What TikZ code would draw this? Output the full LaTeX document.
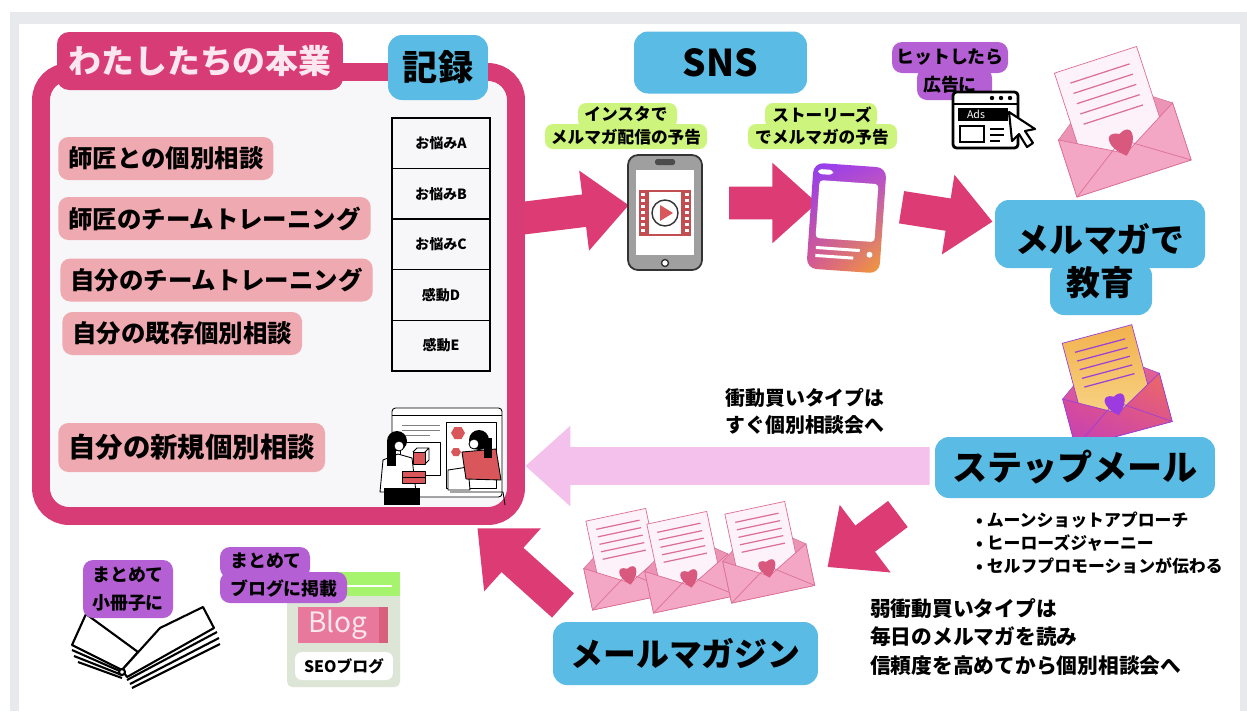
\documentclass[tikz,border=0pt]{standalone}
\usepackage{fontspec}
\setmainfont{Noto Sans CJK JP}[BoldFont={Noto Sans CJK JP Black}]
\usetikzlibrary{shapes.arrows,shadings,positioning}

\newcommand\fsz[2]{\fontsize{#1}{#2}\selectfont}

\definecolor{BorderGray}{HTML}{E7E9EC}
\definecolor{Panel}{HTML}{F7F7F9}
\definecolor{FramePink}{HTML}{D83C76}
\definecolor{ArrowPink}{HTML}{DC3B73}
\definecolor{SoftPink}{HTML}{F3C1EC}
\definecolor{ItemPink}{HTML}{EFA9B0}
\definecolor{TitleInk}{HTML}{FCE6EF}
\definecolor{SkyBlue}{HTML}{5ABCE5}
\definecolor{Lime}{HTML}{CDF47C}
\definecolor{Violet}{HTML}{B460D4}
\definecolor{SceneRed}{HTML}{D9575B}
\definecolor{EnvFront}{HTML}{F3A7C4}
\definecolor{EnvBack}{HTML}{EC94B6}
\definecolor{Paper}{HTML}{FDF1FA}
\definecolor{EnvLine}{HTML}{DC6F94}
\definecolor{Heart}{HTML}{D9587E}
\definecolor{StoryA}{HTML}{8F3CF3}
\definecolor{StoryB}{HTML}{B246DC}
\definecolor{StoryC}{HTML}{D95A8C}
\definecolor{StoryD}{HTML}{F5A030}
\definecolor{GlowBackTop}{HTML}{E86A86}
\definecolor{GlowBackBot}{HTML}{C43FBE}
\definecolor{GlowUL}{HTML}{E2508F}
\definecolor{GlowUR}{HTML}{EE6B62}
\definecolor{GlowLL}{HTML}{C23FB8}
\definecolor{GlowLR}{HTML}{D54C9A}
\definecolor{GlowPaperTop}{HTML}{F2B24E}
\definecolor{GlowPaperBot}{HTML}{F8D487}
\definecolor{GlowInk}{HTML}{9B3FD6}
\definecolor{GlowHeart}{HTML}{9C3CE0}
\definecolor{BlogPink}{HTML}{E8789C}
\definecolor{BlogDeep}{HTML}{D8607F}
\definecolor{BlogBand}{HTML}{A6F46E}
\definecolor{BlogCard}{HTML}{DDE6D6}

\tikzset{
  bigarrow/.style={single arrow, fill=ArrowPink, inner xsep=0pt, inner ysep=0.32cm,
    single arrow head extend=0.48cm, single arrow tip angle=84},
  tab/.style={fill=FramePink, text=TitleInk, rounded corners=0.24cm,
    font=\bfseries\fsz{18.7}{22}},
  bluebox/.style={fill=SkyBlue, rounded corners=0.28cm, font=\bfseries\fsz{20}{24}},
  worry/.style={fill=ItemPink, rounded corners=0.2cm, anchor=west, inner xsep=0.2cm,
    minimum height=0.86cm, font=\bfseries\fsz{13.9}{16}},
  cell/.style={draw=black, line width=0.7pt, minimum width=1.96cm, minimum height=1.012cm,
    font=\bfseries\fsz{8}{9}},
  note/.style={align=center, font=\bfseries\fsz{9.5}{13}},
  % envelope parts, overridable per envelope
  envback/.style={fill=EnvBack},
  envfill/.style={fill=EnvFront},
  envpaper/.style={fill=Paper},
  envink/.style={draw=EnvLine},
  envheart/.style={fill=Heart},
  pics/loveletter/.style={code={
    \path[envback, envink, line width=0.3pt] (-50,-4) -- (0,-40) -- (50,-4) -- (50,46) -- (-50,46) -- cycle;
    \path[envpaper, envink, line width=0.4pt] (-36,-58) rectangle (36,22);
    \foreach \l in {-46,-37,-28,-19,-10}
      \path[envink, line width=0.7pt] (-26,\l) -- (26,\l);
    \path[envfill, envink, line width=0.4pt] (-50,-4) -- (0,24) -- (50,-4) -- (50,46) -- (-50,46) -- cycle;
    \path[envink, line width=0.4pt] (-50,46) -- (-6,16) (50,46) -- (6,16);
    \path[envheart] (0,26) .. controls (-15,14) and (-12,0) .. (0,7) .. controls (12,0) and (15,14) .. (0,26);
  }},
}

\begin{document}
\begin{tikzpicture}[x=0.02cm, y=-0.02cm]
\useasboundingbox (0,0) rectangle (1247,711);
\fill[BorderGray] (10,12) rectangle (1247,711);
\fill[white] (19,24) rectangle (1240,711);

% --- flow arrows ---
\node[bigarrow, minimum height=2.2cm, rotate=7] (toinsta) at (565,213) {};
\node[bigarrow, minimum height=1.76cm] (tostory) at (764,203) {};
\node[bigarrow, minimum height=1.84cm, rotate=-9] (tomailedu) at (938,213) {};
\node[bigarrow, fill=SoftPink, minimum height=8.08cm, rotate=180, inner ysep=0.37cm,
  single arrow head extend=0.43cm] (impulse) at (738,466) {};
\node[bigarrow, minimum height=1.76cm, rotate=217, single arrow head extend=0.52cm] (tomagazine) at (870,535) {};
\node[bigarrow, minimum height=2.3cm, rotate=138, single arrow head extend=0.52cm] (toservice) at (527,573) {};

% --- main frame ---
\draw[FramePink, fill=Panel, line width=10.2pt, rounded corners=0.56cm] (41,72) rectangle (516,516);
\node[tab, minimum width=5.72cm, minimum height=1.16cm] (title) at (200,61) {わたしたちの本業};
\node[bluebox, minimum width=2cm, minimum height=1.3cm] (record) at (438,67.5) {記録};

\node[worry] (w1) at (58,158.5) {師匠との個別相談};
\node[worry] (w2) at (58,218.5) {師匠のチームトレーニング};
\node[worry] (w3) at (60,280) {自分のチームトレーニング};
\node[worry] (w4) at (62,333.5) {自分の既存個別相談};
\node[worry, minimum height=0.98cm, font=\bfseries\fsz{15.6}{18}] (w5) at (58,447.5) {自分の新規個別相談};

\foreach \t [count=\i] in {お悩みA,お悩みB,お悩みC,感動D,感動E}
  \node[cell] (cell\i) at (441,{92.6+50.6*\i}) {\t};

% consultation scene
\begin{scope}[line width=0.5pt, line join=round]
  \filldraw[fill=white, rounded corners=2pt] (392,408) rectangle (502,497);
  \draw (392,415) -- (502,415);
  \draw[gray] (402,425) -- (440,425) (402,430) -- (440,430) (402,435) -- (430,435);
  \draw (400,442) rectangle (440,475);
  \draw (446,422) rectangle (496,488);
  \fill[SceneRed] (465,433) -- (461.5,427) -- (454.5,427) -- (451,433) -- (454.5,439) -- (461.5,439) -- cycle;
  \fill[SceneRed] (461,452) -- (458.5,448) -- (453.5,448) -- (451,452) -- (453.5,456) -- (458.5,456) -- cycle;
  \filldraw[fill=SceneRed] (413,452) rectangle (425,464);
  \draw (413,452) -- (417,448) -- (429,448) -- (429,460) -- (425,464) (425,452) -- (429,448);
  % left woman
  \filldraw[fill=white] (380,492) -- (383,460) -- (398,454) -- (412,458) -- (416,492) -- cycle;
  \fill (397,441) circle (10);
  \fill (387,441) rectangle (396,466);
  \filldraw[fill=white] (399,446) circle (5);
  \fill (384,488) rectangle (420,505);
  \filldraw[fill=SceneRed] (402,471) rectangle (425,477) (402,477) rectangle (425,483);
  % right woman
  \filldraw[fill=white] (448,490) -- (448,470) -- (468,467) -- (470,490) -- cycle;
  \filldraw[fill=SceneRed] (462,452) -- (496,449) -- (501,480) -- (466,479) -- cycle;
  \fill (479,440) circle (10);
  \fill (484,438) rectangle (492,458);
  \filldraw[fill=white] (474,444) circle (5);
  \draw (450,492) -- (503,492) -- (505,505);
\end{scope}

% --- SNS column ---
\node[bluebox, minimum width=3.46cm, minimum height=1.24cm, font=\bfseries\fsz{21}{24}] (sns) at (720.5,62.5) {SNS};

\fill[Lime, rounded corners=0.16cm] (578,103) rectangle (677,128);
\fill[Lime, rounded corners=0.16cm] (545,124) rectangle (707,149);
\node[note] (instanote) at (626,126) {インスタで\\メルマガ配信の予告};

\fill[Lime, rounded corners=0.16cm] (765,103) rectangle (877,128);
\fill[Lime, rounded corners=0.16cm] (748,124) rectangle (897,149);
\node[note] (storynote) at (822,126) {ストーリーズ\\でメルマガの予告};

% phone with video
\filldraw[fill=gray!75, draw=black!80, line width=1pt, rounded corners=0.2cm] (628,155) rectangle (702,270);
\fill[white] (636,170) rectangle (694,255);
\fill[black!70, rounded corners=1pt] (655,159) rectangle (675,165);
\filldraw[fill=white, draw=black!80, line width=0.8pt] (665,263) circle (3.5);
\fill[SceneRed!90!black] (639,190) rectangle (691,236);
\foreach \s in {193,199,...,231} {
  \fill[white] (641,\s) rectangle (645,{\s+3});
  \fill[white] (685,\s) rectangle (689,{\s+3});
}
\fill[white] (649,192) rectangle (681,234);
\filldraw[fill=white, draw=black!80, line width=0.8pt] (665,213) circle (13);
\fill[SceneRed] (660,205) -- (660,221) -- (673,213) -- cycle;

% story phone
\begin{scope}[rotate around={-4:(846,218)}]
  \shade[rounded corners=0.2cm, upper left=StoryA, upper right=StoryB, lower left=StoryC, lower right=StoryD]
    (810,165) rectangle (883,271);
  \fill[white, rounded corners=2pt] (817,182) rectangle (876,240);
  \fill[white, rounded corners=2pt] (815,171) rectangle (830,176);
  \fill[white] (818,248) rectangle (862,251) (818,256) rectangle (856,259);
  \fill[white] (872,253) circle (3);
\end{scope}

% --- ads and education ---
\fill[Violet, rounded corners=0.2cm] (892,42) rectangle (1008,73);
\fill[Violet, rounded corners=0.2cm] (917,68) rectangle (992,100);
\node[align=center, font=\bfseries\fsz{10.2}{15.9}] (adnote) at (950,71) {ヒットしたら\\広告に};

\begin{scope}[line width=1.6pt]
  \draw[rounded corners=2pt, fill=white] (953,92) rectangle (1018,148);
  \draw (953,104) -- (1018,104);
  \foreach \d in {992,1001,1010} \fill (\d,98) circle (2.2);
  \fill (958,108) rectangle (1008,121);
  \node[text=white, font=\fsz{6}{7}] (adtag) at (976,114.5) {Ads};
  \draw[line width=1.2pt] (960,126) rectangle (984,142);
  \draw[line width=1.2pt] (990,129) -- (1004,129) (990,135) -- (1004,135) (990,141) -- (1000,141);
  \filldraw[fill=white, line width=1.2pt, line join=round] (1009,112) -- (1012,141) -- (1019,134) -- (1027,147) -- (1033,143) -- (1025,131) -- (1035,129) -- cycle;
\end{scope}

\pic[rotate=18, scale=1.2] at (1117,126) {loveletter};

\fill[SkyBlue, rounded corners=0.28cm] (995,200) rectangle (1205,268);
\fill[SkyBlue, rounded corners=0.28cm] (1050,262) rectangle (1152,315);
\node[align=center, font=\bfseries\fsz{19.3}{24.4}] (mailedu) at (1100,261) {メルマガで\\教育};

% --- step mail ---
\pic[rotate=15, envback/.style={top color=GlowBackTop, bottom color=GlowBackBot},
  envfill/.style={upper left=GlowUL, upper right=GlowUR, lower left=GlowLL, lower right=GlowLR},
  envpaper/.style={top color=GlowPaperTop, bottom color=GlowPaperBot},
  envink/.style={draw=GlowInk}, envheart/.style={fill=GlowHeart}] at (1112,390) {loveletter};
\node[bluebox, minimum width=5.6cm, minimum height=1.22cm] (stepmail) at (1075,467.5) {ステップメール};

\node[align=center, font=\bfseries\fsz{11.3}{15.3}] (impulsenote) at (805,411) {衝動買いタイプは\\すぐ個別相談会へ};
\node[anchor=west, align=left, font=\bfseries\fsz{9.6}{13}] (steps) at (970,543)
  {•\ ムーンショットアプローチ\\•\ ヒーローズジャーニー\\•\ セルフプロモーションが伝わる};

% --- mail magazine ---
\pic[rotate=12, scale=0.85] at (626,563) {loveletter};
\pic[rotate=12, scale=0.85] at (687,566) {loveletter};
\pic[rotate=12, scale=0.85] at (765,556) {loveletter};
\node[bluebox, minimum width=5.3cm, minimum height=1.26cm, font=\bfseries\fsz{18.7}{22}] (magazine) at (685.5,653.5) {メールマガジン};
\node[anchor=west, align=left, font=\bfseries\fsz{11.8}{16.2}] (slownote) at (864,637)
  {弱衝動買いタイプは\\毎日のメルマガを読み\\信頼度を高めてから個別相談会へ};

% --- booklet ---
\begin{scope}[line width=1.2pt, line join=round]
  \draw (122,678) -- (78,662) (122,675) -- (74,656) (122,672) -- (72,650);
  \filldraw[fill=white] (122,670) -- (72,645) -- (86,614) -- (138,652) -- cycle;
  \draw (132,688) -- (220,644) (130,684) -- (219,638) (127,680) -- (217,632);
  \filldraw[fill=white] (122,670) -- (160,628) -- (203,607) -- (214,628) -- (127,677) -- cycle;
  \filldraw[fill=white] (122,672) circle (3);
\end{scope}
\fill[Violet, rounded corners=0.2cm] (83,560) rectangle (173,618);
\node[align=center, font=\bfseries\fsz{10.2}{16}] (booknote) at (128,589) {まとめて\\小冊子に};

% --- blog card ---
\fill[BlogCard, rounded corners=3pt] (287,572) rectangle (400,687);
\fill[BlogBand] (287,572) rectangle (400,596);
\draw[white, line width=1pt] (300,586) -- (392,586);
\fill[BlogPink] (298,607) rectangle (388,643);
\fill[BlogDeep] (379,607) rectangle (388,643);
\node[text=TitleInk, font=\fsz{16}{18}] (blog) at (338,625) {Blog};
\node[fill=white, rounded corners=0.14cm, minimum width=1.96cm, minimum height=0.56cm,
  font=\bfseries\fsz{9}{10}] (seo) at (344,666) {SEOブログ};
\fill[Violet, rounded corners=0.2cm] (220,547) rectangle (310,578);
\fill[Violet, rounded corners=0.2cm] (220,572) rectangle (347,603);
\node[anchor=west, align=left, font=\bfseries\fsz{10.2}{16}] (blognote) at (224,575) {まとめて\\ブログに掲載};

\end{tikzpicture}
\end{document}
